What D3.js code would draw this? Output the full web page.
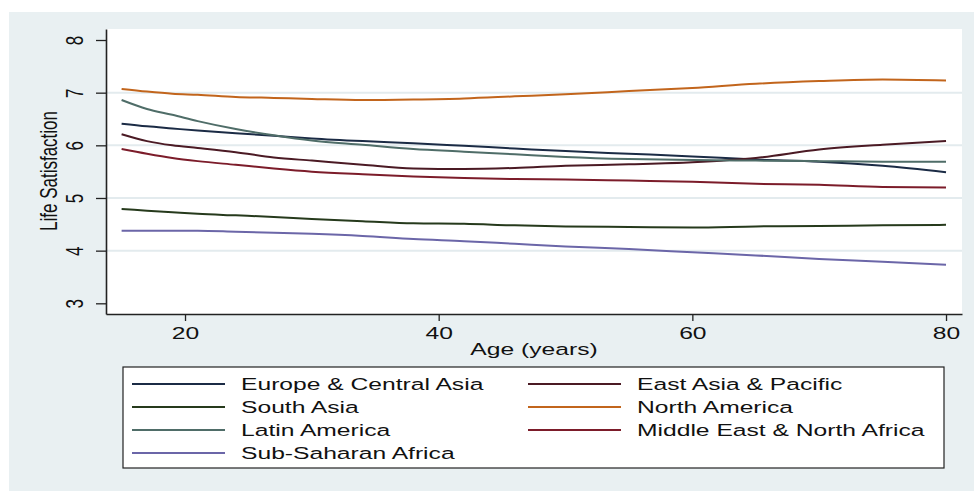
<!DOCTYPE html>
<html>
<head>
<meta charset="utf-8">
<script src="https://cdn.jsdelivr.net/npm/d3@7"></script>
<style>
	body { margin: 0; background: #fff; }
	text { font-family: "Liberation Sans", Arial, sans-serif; fill: #111; }
</style>
</head>
<body>
<svg id="chart" width="974" height="491"></svg>
<script>
const ages = [15, 17, 19, 21, 24, 27, 30, 34, 38, 42, 46, 50, 55, 60, 65, 70, 75, 80];

const europeCentralAsia = [6.41, 6.36, 6.32, 6.28, 6.23, 6.18, 6.13, 6.08, 6.04, 5.99, 5.94, 5.89, 5.84, 5.79, 5.73, 5.69, 5.61, 5.49];
const eastAsiaPacific = [6.21, 6.08, 6.0, 5.95, 5.87, 5.77, 5.71, 5.63, 5.56, 5.55, 5.57, 5.61, 5.64, 5.68, 5.76, 5.92, 6.01, 6.08];
const southAsia = [4.79, 4.76, 4.73, 4.7, 4.67, 4.64, 4.6, 4.56, 4.52, 4.51, 4.48, 4.46, 4.45, 4.44, 4.46, 4.47, 4.48, 4.49];
const northAmerica = [7.07, 7.02, 6.98, 6.96, 6.92, 6.9, 6.88, 6.86, 6.87, 6.89, 6.93, 6.97, 7.03, 7.09, 7.17, 7.22, 7.25, 7.23];
const latinAmerica = [6.86, 6.69, 6.58, 6.46, 6.31, 6.19, 6.09, 6.01, 5.93, 5.88, 5.83, 5.78, 5.74, 5.72, 5.71, 5.7, 5.69, 5.69];
const middleEastNorthAfrica = [5.93, 5.84, 5.76, 5.7, 5.63, 5.56, 5.5, 5.45, 5.41, 5.38, 5.36, 5.35, 5.33, 5.31, 5.27, 5.25, 5.21, 5.2];
const subSaharanAfrica = [4.38, 4.38, 4.38, 4.38, 4.36, 4.34, 4.32, 4.28, 4.22, 4.18, 4.13, 4.08, 4.03, 3.97, 3.91, 3.84, 3.79, 3.73];

const regions = ["Europe & Central Asia", "East Asia & Pacific", "South Asia", "North America",
	"Latin America", "Middle East & North Africa", "Sub-Saharan Africa"];
const regionValues = [europeCentralAsia, eastAsiaPacific, southAsia, northAmerica,
	latinAmerica, middleEastNorthAfrica, subSaharanAfrica];
const colors = ["#1b2b45", "#4b1a24", "#263a1c", "#c2651c", "#4f6d68", "#7c1c2a", "#6b66a8"];

const xTicks = [20, 40, 60, 80];
const yTicks = [3, 4, 5, 6, 7, 8];
const gridValues = [4, 5, 6, 7];

const bg = "#e9f0f2";
const sx = 1.45; // the source image is stretched sideways, text too

let svg = d3.select("#chart");

// outer panel
svg.append("rect").attr("x", 9).attr("y", 12).attr("width", 965).attr("height", 479).attr("fill", bg);

let plot = { left: 106, right: 962, top: 29, bottom: 314 };
svg.append("rect")
	.attr("x", plot.left).attr("y", plot.top)
	.attr("width", plot.right - plot.left).attr("height", plot.bottom - plot.top)
	.attr("fill", "#fff");

let x = d3.scaleLinear().domain([13.77, 81.26]).range([plot.left, plot.right]);
let y = d3.scaleLinear().domain([2.797, 8.209]).range([plot.bottom, plot.top]);

// grid
svg.append("g").selectAll("line").data(gridValues).enter().append("line")
	.attr("x1", plot.left).attr("x2", plot.right)
	.attr("y1", (d) => y(d)).attr("y2", (d) => y(d))
	.attr("stroke", "#e3ebee").attr("stroke-width", 2);

// curves
const line = d3.line().x((d) => x(d[0])).y((d) => y(d[1])).curve(d3.curveMonotoneX);
svg.append("g").selectAll("path").data(regionValues).enter().append("path")
	.attr("d", (vals) => line(ages.map((a, i) => [a, vals[i]])))
	.attr("fill", "none")
	.attr("stroke", (d, i) => colors[i])
	.attr("stroke-width", 2);

// y axis
let yAxis = svg.append("g").attr("transform", `translate(${plot.left},0)`)
	.call(d3.axisLeft(y).tickValues(yTicks).tickSize(10).tickSizeOuter(0).tickFormat(d3.format("d")));
yAxis.select(".domain").attr("stroke", "#222").attr("stroke-width", 1.6);
yAxis.selectAll(".tick line").attr("stroke", "#222").attr("stroke-width", 1.3);
yAxis.selectAll(".tick text")
	.attr("x", 0).attr("dy", 0).attr("text-anchor", "middle")
	.attr("transform", `translate(-23,0) scale(${sx},1) rotate(-90)`)
	.style("font-size", "17px").attr("fill", "#111");

// x axis
let xAxis = svg.append("g").attr("transform", `translate(0,${plot.bottom})`)
	.call(d3.axisBottom(x).tickValues(xTicks).tickSize(7).tickSizeOuter(0));
xAxis.select(".domain").attr("stroke", "#222").attr("stroke-width", 1.6);
xAxis.selectAll(".tick line").attr("stroke", "#222").attr("stroke-width", 1.3);
xAxis.selectAll(".tick text")
	.attr("y", 0).attr("dy", 0)
	.attr("transform", `translate(0,25) scale(${sx},1)`)
	.style("font-size", "17px").attr("fill", "#111");

// axis titles
svg.append("text")
	.attr("text-anchor", "middle")
	.attr("transform", `translate(57,171) scale(${sx},1) rotate(-90)`)
	.style("font-size", "17px")
	.text("Life Satisfaction");

svg.append("text")
	.attr("text-anchor", "middle")
	.attr("transform", `translate(${(plot.left + plot.right) / 2},355) scale(${sx},1)`)
	.style("font-size", "17px")
	.text("Age (years)");

// legend, two columns filled row by row
let legend = svg.append("g");
legend.append("rect")
	.attr("x", 123).attr("y", 367).attr("width", 821).attr("height", 101)
	.attr("fill", "#fff").attr("stroke", "#222").attr("stroke-width", 1.2);

const colX = [132, 528];
const rowY = [384, 407, 430, 453];
regions.forEach((name, i) => {
	let cx = colX[i % 2];
	let cy = rowY[Math.floor(i / 2)];
	legend.append("line")
		.attr("x1", cx).attr("x2", cx + 93)
		.attr("y1", cy).attr("y2", cy)
		.attr("stroke", colors[i]).attr("stroke-width", 2);
	legend.append("text")
		.attr("transform", `translate(${cx + 109},${cy + 6}) scale(${sx},1)`)
		.style("font-size", "17px")
		.text(name);
});
</script>
</body>
</html>
